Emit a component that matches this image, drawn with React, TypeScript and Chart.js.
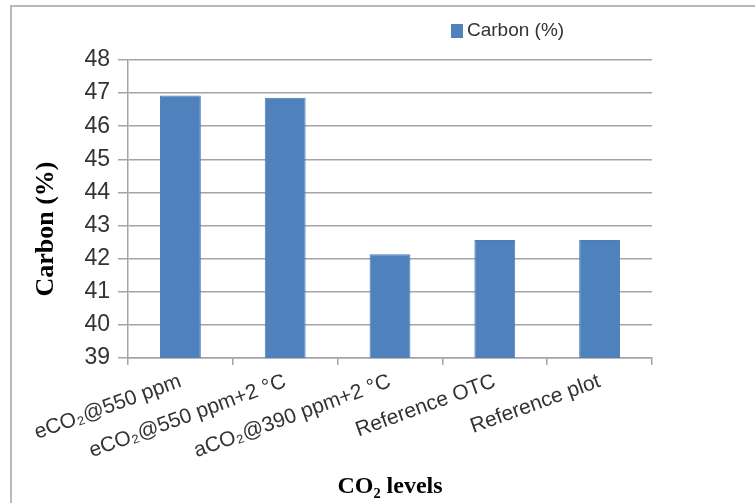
import React, { useEffect, useRef } from "react";
import { Chart, registerables } from "chart.js";

Chart.register(...registerables);

const categories = [
  "eCO₂@550 ppm",
  "eCO₂@550 ppm+2 °C",
  "aCO₂@390 ppm+2 °C",
  "Reference OTC",
  "Reference plot",
];
const carbonValues = [46.93, 46.86, 42.13, 42.56, 42.56];
const seriesName = "Carbon (%)";
const yTitle = "Carbon (%)";
const xTitle = "CO₂ levels";
const yMin = 39;
const yMax = 48;
const yStep = 1;

const BAR = "#4f81bd";
const GRID = "#a4a4a4";
const TEXT = "#333333";
const NARROW = "'Liberation Sans Narrow', 'Liberation Sans', Arial, sans-serif";
const SERIF = "'Liberation Serif', 'Times New Roman', serif";

const overlayPlugin = {
  id: "overlay",
  afterDraw(chart: any) {
    const ctx = chart.ctx as CanvasRenderingContext2D;
    const area = chart.chartArea;
    ctx.save();
    // legend
    ctx.fillStyle = BAR;
    ctx.fillRect(451, 24, 12, 14);
    ctx.fillStyle = TEXT;
    ctx.font = `19px ${NARROW}`;
    ctx.textAlign = "left";
    ctx.textBaseline = "middle";
    ctx.fillText(seriesName, 467, 31);
    // y title
    ctx.translate(46, (area.top + area.bottom) / 2 + 20);
    ctx.rotate(-Math.PI / 2);
    ctx.fillStyle = "#000";
    ctx.font = `bold 26px ${SERIF}`;
    ctx.textAlign = "center";
    ctx.textBaseline = "middle";
    ctx.fillText(yTitle, 0, 0);
    ctx.restore();
  },
};

export default function App() {
  const ref = useRef<HTMLCanvasElement | null>(null);
  useEffect(() => {
    if (!ref.current) return;
    const chart = new Chart(ref.current, {
      type: "bar",
      data: {
        labels: categories,
        datasets: [
          {
            label: seriesName,
            data: carbonValues,
            backgroundColor: BAR,
            borderColor: "#4a7ebb",
            borderWidth: 1,
            barPercentage: 0.39,
            categoryPercentage: 1,
          },
        ],
      },
      options: {
        animation: false,
        responsive: false,
        maintainAspectRatio: false,
        layout: { padding: { top: 60, right: 103, left: 0, bottom: 0 } },
        plugins: {
          legend: { display: false },
          tooltip: { enabled: false },
        },
        scales: {
          x: {
            offset: true,
            grid: {
              display: true,
              drawOnChartArea: false,
              drawTicks: true,
              tickLength: 7,
              color: GRID,
              lineWidth: 1.5,
              offset: true,
            },
            border: { display: true, color: GRID, width: 1.5 },
            ticks: {
              font: { family: NARROW, size: 21 },
              color: TEXT,
              minRotation: 20,
              maxRotation: 20,
              padding: 4,
              autoSkip: false,
            },
            title: {
              display: true,
              text: xTitle,
              font: { family: SERIF, size: 24, weight: "bold" },
              color: "#000",
              padding: { top: 0, bottom: 2 },
            },
            afterFit(scale: any) {
              scale.height = 145;
            },
          },
          y: {
            min: yMin,
            max: yMax,
            ticks: {
              stepSize: yStep,
              font: { family: NARROW, size: 23 },
              color: TEXT,
              padding: 8,
            },
            grid: {
              color: GRID,
              lineWidth: 1.5,
              tickLength: 10,
            },
            border: { display: true, color: GRID, width: 1.5 },
            afterFit(scale: any) {
              scale.width = 128;
            },
          },
        },
      },
      plugins: [overlayPlugin],
    });
    return () => chart.destroy();
  }, []);

  return (
    <div
      style={{
        position: "fixed",
        left: 0,
        top: 0,
        width: 755,
        height: 503,
        background: "#fff",
        overflow: "hidden",
      }}
    >
      <canvas ref={ref} width={755} height={503} style={{ position: "absolute", left: 0, top: 0 }} />
      <div
        style={{
          position: "absolute",
          left: 10,
          top: 5,
          width: 800,
          height: 600,
          borderLeft: "2px solid #b8b8b8",
          borderTop: "2px solid #b8b8b8",
          pointerEvents: "none",
        }}
      />
    </div>
  );
}
